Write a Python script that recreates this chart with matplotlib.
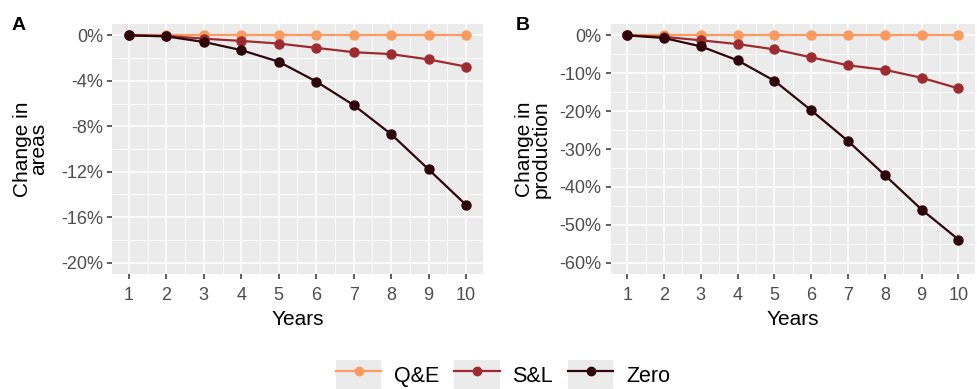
import matplotlib.pyplot as plt
import numpy as np
from matplotlib.legend_handler import HandlerLine2D
from matplotlib.patches import Rectangle
from matplotlib.lines import Line2D
from matplotlib.ticker import FuncFormatter

plt.rcParams['font.family'] = ['Liberation Sans', 'DejaVu Sans']

years = [1, 2, 3, 4, 5, 6, 7, 8, 9, 10]
series_names = ['Q&E', 'S&L', 'Zero']

# Panel A: change in areas (%)
area_qe = [0, 0, 0, 0, 0, 0, 0, 0, 0, 0]
area_sl = [0, -0.05, -0.29, -0.49, -0.72, -1.1, -1.48, -1.65, -2.12, -2.75]
area_zero = [0, -0.09, -0.58, -1.3, -2.32, -4.06, -6.14, -8.7, -11.8, -14.93]

# Panel B: change in production (%)
prod_qe = [0, 0, 0, 0, 0, 0, 0, 0, 0, 0]
prod_sl = [0, -0.4, -1.3, -2.3, -3.7, -5.8, -7.9, -9.1, -11.2, -14.0]
prod_zero = [0, -0.7, -2.9, -6.6, -12.0, -19.8, -27.9, -36.9, -46.0, -53.9]

colors = ['#F99A5E', '#9E2B30', '#2E0509']

fig = plt.figure(figsize=(9.77, 3.89), dpi=100)
axA = fig.add_axes([0.1146, 0.2956, 0.3798, 0.6427])
axB = fig.add_axes([0.625, 0.2956, 0.373, 0.6427])


def style(ax, yticks, ylim):
    ax.set_facecolor('#EBEBEB')
    for s in ax.spines.values():
        s.set_visible(False)
    ax.set_xlim(0.55, 10.45)
    ax.set_ylim(*ylim)
    ax.set_xticks(years)
    ax.set_xticks(np.arange(1.5, 10, 1), minor=True)
    ax.set_yticks(yticks)
    step = yticks[1] - yticks[0]
    ax.set_yticks(np.array(yticks[:-1]) + step / 2, minor=True)
    ax.yaxis.set_major_formatter(FuncFormatter(lambda v, p: '%d%%' % round(v)))
    ax.grid(which='major', color='white', lw=1.1)
    ax.grid(which='minor', color='white', lw=0.55)
    ax.set_axisbelow(True)
    ax.tick_params(which='major', length=3.5, width=1.1, color='#333333',
                   labelsize=13, labelcolor='#4D4D4D', pad=3)
    ax.tick_params(axis='x', which='major', pad=6)
    ax.tick_params(which='minor', length=0)
    ax.set_xlabel('Years', fontsize=15, labelpad=4)


for ax, data in [(axA, [area_qe, area_sl, area_zero]),
                 (axB, [prod_qe, prod_sl, prod_zero])]:
    for vals, c, name in zip(data, colors, series_names):
        ax.plot(years, vals, color=c, lw=1.6, marker='o', ms=6.5, label=name)

style(axA, [-20, -16, -12, -8, -4, 0], (-21, 1))
style(axB, [-60, -50, -40, -30, -20, -10, 0], (-63, 3))
axA.set_ylabel('Change in\nareas', fontsize=15, labelpad=9, linespacing=0.85)
axB.set_ylabel('Change in\nproduction', fontsize=15, labelpad=6, linespacing=0.85)

fig.text(0.012, 0.935, 'A', fontsize=14, fontweight='bold', va='center')
fig.text(0.528, 0.935, 'B', fontsize=14, fontweight='bold', va='center')


class KeyHandler(HandlerLine2D):
    def create_artists(self, legend, orig_handle, xdescent, ydescent,
                       width, height, fontsize, trans):
        rect = Rectangle((-xdescent, -ydescent), width, height,
                         facecolor='#EBEBEB', edgecolor='none', transform=trans)
        arts = super().create_artists(legend, orig_handle, xdescent, ydescent,
                                      width, height, fontsize, trans)
        return [rect] + list(arts)


handles = [Line2D([], [], color=c, lw=1.6, marker='o', ms=6) for c in colors]
fig.legend(handles, series_names, loc='center', bbox_to_anchor=(0.515, 0.035),
           ncol=3, frameon=False, fontsize=15.5, handlelength=2.1,
           handleheight=1.8, handletextpad=0.6, columnspacing=0.7,
           handler_map={Line2D: KeyHandler(numpoints=1)})

fig.savefig('out.png', dpi=100)
